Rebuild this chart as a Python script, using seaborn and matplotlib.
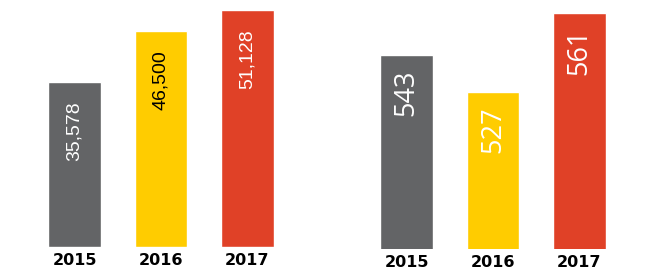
import matplotlib
matplotlib.use("Agg")
import matplotlib.pyplot as plt
import seaborn as sns
import pandas as pd

years = ["2015", "2016", "2017"]
left_values = [35578, 46500, 51128]
right_values = [543, 527, 561]
colors = ["#636466", "#FFCC00", "#E04127"]
left_label_colors = ["white", "black", "white"]
right_label_colors = ["white", "white", "white"]

sns.set_theme(style="white")
plt.rcParams["font.family"] = ["Liberation Sans", "DejaVu Sans"]

W, H = 652, 279
fig = plt.figure(figsize=(W / 100, H / 100), dpi=100)
ax1 = fig.add_axes([31.25 / W, (H - 247) / H, 259.5 / W, 237 / H])
ax2 = fig.add_axes([363.25 / W, (H - 249) / H, 259.5 / W, 237 / H])

def draw(ax, values, ylim, label_colors, fmt, font, size, off):
    df = pd.DataFrame({"year": years, "value": values})
    sns.barplot(data=df, x="year", y="value", hue="year", palette=colors,
                width=0.61, ax=ax, legend=False, saturation=1)
    ax.set_ylim(*ylim)
    ax.set_xlim(-0.5, 2.5)
    for i, v in enumerate(values):
        ax.annotate(fmt(v), xy=(i, v), xytext=(0, -off), textcoords="offset pixels",
                    rotation=90, ha="center", va="top", color=label_colors[i],
                    fontsize=size, family=font)
    ax.set_xlabel("")
    ax.set_ylabel("")
    ax.set_yticks([])
    ax.tick_params(axis="x", length=0, pad=4)
    for t in ax.get_xticklabels():
        t.set_fontweight("bold")
        t.set_fontsize(11.5)
        t.set_family(["DejaVu Sans"])
        t.set_color("black")
    sns.despine(ax=ax, left=True, bottom=True, top=True, right=True)

draw(ax1, left_values, (0, 51128), left_label_colors, lambda v: f"{v:,}",
     ["Liberation Sans", "DejaVu Sans"], 14, 19)
draw(ax2, right_values, (458.6, 561.6), right_label_colors, lambda v: f"{v}",
     ["Open Sans", "DejaVu Sans"], 19.5, 15)

fig.savefig("out.png", dpi=100)
